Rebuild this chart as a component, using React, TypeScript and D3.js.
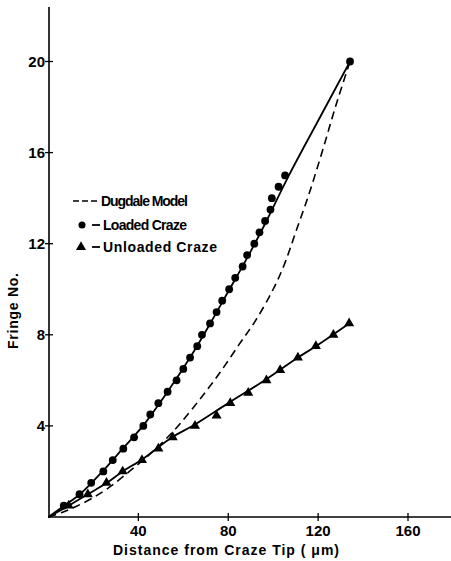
import React from "react"
import * as d3 from "d3"

// measured points
const loadedX = [6.8, 13.8, 19, 24.4, 28.6, 33.3, 38.1, 42.2, 45.3, 48.9, 53, 57, 60, 63, 66.2, 68.3, 71.9, 74.8, 77.3, 80.4, 83.1, 86.4, 88.4, 91.6, 93.9, 96.4, 98.8, 99.4, 102.4, 105.3, 134.2]
const loadedY = [0.5, 1.0, 1.5, 2.0, 2.5, 3.0, 3.5, 4.0, 4.5, 5.0, 5.5, 6.0, 6.5, 7.0, 7.5, 8.0, 8.5, 9.0, 9.5, 10.0, 10.5, 11.0, 11.5, 12.0, 12.5, 13.0, 13.5, 14.0, 14.5, 15.0, 20.0]
const unloadedX = [9, 17.5, 25.8, 33, 41.6, 48.9, 55.3, 65.2, 74.8, 80.9, 88.9, 97, 103.1, 111, 119, 126.8, 133.8]
const unloadedY = [0.5, 1.0, 1.5, 2.0, 2.5, 3.0, 3.5, 4.0, 4.45, 5.0, 5.45, 6.0, 6.45, 7.0, 7.5, 8.0, 8.5]

// drawn curves
const loadedFitX = [0, 7, 14, 24, 33, 42, 53, 63, 72, 80, 88, 96, 107, 120, 134.2]
const loadedFitY = [0, 0.5, 1.0, 2.0, 3.0, 4.0, 5.5, 7.0, 8.5, 9.9, 11.3, 12.8, 15.0, 17.4, 20]
const unloadedFitX = [0, 9, 17.5, 26, 33, 42, 55, 65, 80, 97, 111, 119, 133.8]
const unloadedFitY = [0, 0.5, 1.0, 1.5, 2.0, 2.55, 3.5, 4.05, 5.0, 6.05, 7.0, 7.5, 8.5]
const dugdaleX = [0, 6, 12, 19, 27, 36, 45, 53, 59, 68, 76, 85, 92, 100, 105, 110, 116, 122, 128, 134.2]
const dugdaleY = [0, 0.2, 0.45, 0.8, 1.3, 2.0, 2.75, 3.5, 4.15, 5.25, 6.3, 7.6, 8.6, 10.0, 11.1, 12.5, 14.2, 16.1, 18.1, 20]

const xTicks = [40, 80, 120, 160]
const yTicks = [4, 8, 12, 16, 20]

const W = 451
const H = 561
const font = "'Liberation Sans', Arial, sans-serif"

export default function App() {
  const x = d3.scaleLinear().domain([0, 160]).range([48.5, 408])
  const y = d3.scaleLinear().domain([0, 20]).range([517, 61.5])

  const line = d3
    .line<[number, number]>()
    .x(d => x(d[0]))
    .y(d => y(d[1]))
    .curve(d3.curveCatmullRom)

  const zip = (a: number[], b: number[]) => a.map((v, i) => [v, b[i]] as [number, number])
  const tri = d3.symbol().type(d3.symbolTriangle).size(44)()

  return (
    <svg width={W} height={H} style={{ position: "absolute", left: 0, top: 0, background: "#fff" }}>
      {/* axes */}
      <line x1={49} x2={49} y1={7} y2={518} stroke="#000" strokeWidth={1.6} />
      <line x1={48} x2={451} y1={517} y2={517} stroke="#000" strokeWidth={1.6} />
      {yTicks.map(t => (
        <g key={"y" + t}>
          <line x1={45} x2={53} y1={y(t)} y2={y(t)} stroke="#000" strokeWidth={1.3} />
          <text x={45} y={y(t)} dy="0.36em" textAnchor="end" fontFamily={font} fontWeight="bold" fontSize={15}>{t}</text>
        </g>
      ))}
      {xTicks.map(t => (
        <g key={"x" + t}>
          <line x1={x(t)} x2={x(t)} y1={513} y2={521} stroke="#000" strokeWidth={1.3} />
          <text x={x(t)} y={536} textAnchor="middle" fontFamily={font} fontWeight="bold" fontSize={15}>{t}</text>
        </g>
      ))}
      <text x={113} y={555} textLength={226} lengthAdjust="spacing" fontFamily={font} fontWeight="bold" fontSize={14}>Distance from Craze Tip ( μm)</text>
      <text transform="translate(18,311) rotate(-90)" textAnchor="middle" textLength={76} lengthAdjust="spacing" fontFamily={font} fontWeight="bold" fontSize={14}>Fringe No.</text>

      {/* curves */}
      <path d={line(zip(dugdaleX, dugdaleY)) || ""} fill="none" stroke="#000" strokeWidth={1.6} strokeDasharray="8,5" />
      <path d={line(zip(loadedFitX, loadedFitY)) || ""} fill="none" stroke="#000" strokeWidth={1.8} />
      <path d={line(zip(unloadedFitX, unloadedFitY)) || ""} fill="none" stroke="#000" strokeWidth={1.8} />

      {loadedX.map((v, i) => (
        <circle key={"c" + i} cx={x(v)} cy={y(loadedY[i])} r={3.9} fill="#000" />
      ))}
      {unloadedX.map((v, i) => (
        <path key={"t" + i} d={tri || ""} transform={`translate(${x(v)},${y(unloadedY[i])})`} fill="#000" />
      ))}

      {/* legend */}
      <line x1={73} x2={100} y1={201} y2={201} stroke="#000" strokeWidth={1.6} strokeDasharray="6,3" />
      <text x={101} y={206} fontFamily={font} fontWeight="bold" fontSize={14} textLength={87} lengthAdjust="spacing">Dugdale Model</text>
      <circle cx={82} cy={225} r={3.5} fill="#000" />
      <line x1={92} x2={100} y1={225} y2={225} stroke="#000" strokeWidth={1.8} />
      <text x={103} y={230} fontFamily={font} fontWeight="bold" fontSize={14} textLength={84} lengthAdjust="spacing">Loaded  Craze</text>
      <path d={tri || ""} transform="translate(81,247)" fill="#000" />
      <line x1={92} x2={100} y1={247} y2={247} stroke="#000" strokeWidth={1.8} />
      <text x={103} y={252} fontFamily={font} fontWeight="bold" fontSize={14} textLength={114} lengthAdjust="spacing">Unloaded  Craze</text>
    </svg>
  )
}
